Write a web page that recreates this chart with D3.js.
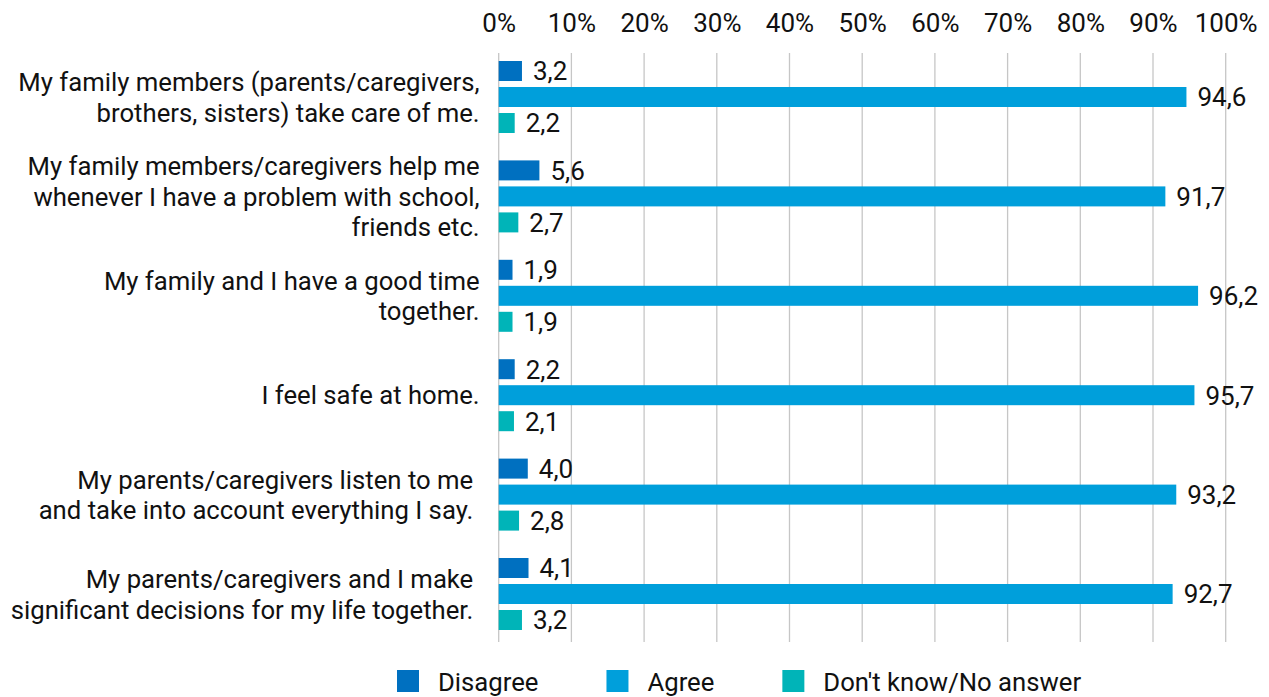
<!DOCTYPE html>
<html>
<head>
<meta charset="utf-8">
<script src="https://cdn.jsdelivr.net/npm/d3@7"></script>
<style>
  html, body { margin: 0; padding: 0; background: #fff; }
  svg text { font-family: Roboto, "Noto Sans", sans-serif; fill: #111; white-space: pre; }
</style>
</head>
<body>
<svg id="chart" width="1269" height="697"></svg>
<script>
// Survey statements (each entry is the wrapped lines of one label)
const categories = [
  ["My family members (parents/caregivers, ", "brothers, sisters) take care of me. "],
  ["My family members/caregivers help me ", "whenever I have a problem with school, ", "friends etc. "],
  ["My family and I have a good time ", "together. "],
  ["I feel safe at home. "],
  ["My parents/caregivers listen to me  ", "and take into account everything I say.  "],
  ["My parents/caregivers and I make  ", "significant decisions for my life together.  "]
];
const seriesNames = ["Disagree", "Agree", "Don't know/No answer"];
const disagree = [3.2, 5.6, 1.9, 2.2, 4.0, 4.1];
const agree = [94.6, 91.7, 96.2, 95.7, 93.2, 92.7];
const dontKnow = [2.2, 2.7, 1.9, 2.1, 2.8, 3.2];
const tickValues = [0, 10, 20, 30, 40, 50, 60, 70, 80, 90, 100];
const colors = ["#0070c0", "#009fdb", "#00b4b8"];

const seriesValues = [disagree, agree, dontKnow];
const svg = d3.select("#chart");
const fs = 26;
const labelFs = 25.7;

const x = d3.scaleLinear().domain([0, 100]).range([498.7, 1225.7]);
const y = d3.scaleBand().domain(d3.range(categories.length)).range([47.3, 643.7]);
const yInner = d3.scaleBand().domain(d3.range(seriesNames.length))
  .range([-39, 39]).paddingInner(0.2308).paddingOuter(0.1154);

const gridTop = 53, gridBottom = 642;

// vertical gridlines
svg.append("g").selectAll("line").data(tickValues).join("line")
  .attr("x1", d => x(d)).attr("x2", d => x(d))
  .attr("y1", gridTop).attr("y2", gridBottom)
  .attr("stroke", "#c6c6c6").attr("stroke-width", 1.3);

// top axis labels
const xAxis = d3.axisTop(x).tickValues(tickValues).tickFormat(d => d + "%").tickSize(0).tickPadding(0);
const ax = svg.append("g").attr("transform", "translate(0,32)").call(xAxis);
ax.select(".domain").remove();
ax.selectAll("text").attr("font-size", fs).attr("font-family", "Roboto").attr("fill", "#111");

// bars and value labels
const groups = svg.append("g").selectAll("g").data(categories).join("g")
  .attr("transform", (d, i) => `translate(0,${y(i) + y.bandwidth() / 2})`);

seriesValues.forEach((vals, s) => {
  groups.append("rect")
    .attr("x", x(0))
    .attr("y", yInner(s))
    .attr("width", (d, i) => x(vals[i]) - x(0))
    .attr("height", yInner.bandwidth())
    .attr("fill", colors[s]);
  groups.append("text")
    .attr("x", (d, i) => x(vals[i]) + 11)
    .attr("y", yInner(s) + yInner.bandwidth() / 2)
    .attr("dy", "0.36em")
    .attr("font-size", fs)
    .text((d, i) => d3.format(".1f")(vals[i]).replace(".", ","));
});

// category labels
groups.each(function(lines) {
  const g = d3.select(this);
  const lh = 30.5;
  const n = lines.length;
  g.append("text")
    .attr("text-anchor", "end")
    .attr("font-size", labelFs)
    .selectAll("tspan").data(lines).join("tspan")
    .attr("x", 486)
    .attr("y", (d, k) => (k - (n - 1) / 2) * lh)
    .attr("dy", "0.36em")
    .text(d => d);
});

// legend
const legend = svg.append("g").attr("transform", "translate(397,681)");
let lx = 0;
seriesNames.forEach((name, s) => {
  const item = legend.append("g").attr("transform", `translate(${lx},0)`);
  item.append("rect").attr("x", 0).attr("y", -11).attr("width", 22).attr("height", 22).attr("fill", colors[s]);
  const t = item.append("text").attr("x", 41).attr("y", 0.5).attr("dy", "0.36em")
    .attr("font-size", labelFs).text(name);
  lx += 41 + t.node().getComputedTextLength() + 68;
});
</script>
</body>
</html>
